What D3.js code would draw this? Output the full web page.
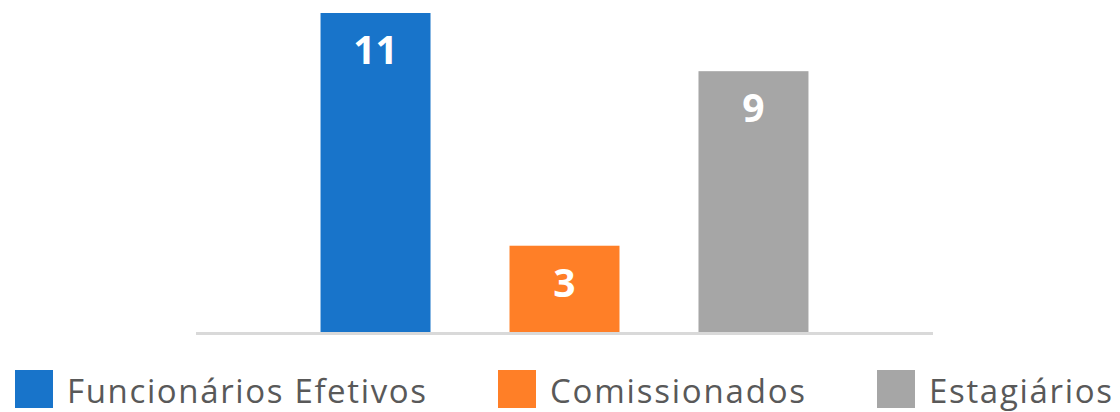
<!DOCTYPE html>
<html>
<head>
<meta charset="utf-8">
<script src="https://cdn.jsdelivr.net/npm/d3@7"></script>
<style>
  body { margin: 0; background: #fff; }
  svg { display: block; }
</style>
</head>
<body>
<div id="chart"></div>
<script>
// chart data
var categories = ['Funcionários Efetivos', 'Comissionados', 'Estagiários'];
var values = [11, 3, 9];
var colors = ['#1874CA', '#FF7F27', '#A6A6A6'];

const config = {
    width: 1120,
    height: 412,
    axisLeft: 196,
    axisRight: 933,
    baseY: 333,
    topY: 13
}

var svg = d3.select('#chart')
    .append('svg')
    .attr('width', config.width)
    .attr('height', config.height)

// x-scale: bars 110px wide, centered over the axis line
var xScale = d3.scaleBand()
    .domain(categories)
    .range([config.axisLeft, config.axisRight])
    .paddingInner(0.418)
    .paddingOuter(0.659)

// y-scale
var yScale = d3.scaleLinear().domain([0, 11]).range([config.baseY, config.topY])

var bars = svg.append('g')
    .selectAll('g')
    .data(values)
    .enter()
    .append('g')

bars.append('rect')
    .attr('x', (d, i) => xScale(categories[i]))
    .attr('y', d => yScale(d))
    .attr('width', xScale.bandwidth())
    .attr('height', d => config.baseY - yScale(d))
    .attr('fill', (d, i) => colors[i])

bars.append('text')
    .attr('x', (d, i) => xScale(categories[i]) + xScale.bandwidth() / 2)
    .attr('y', d => yScale(d) + 51)
    .attr('text-anchor', 'middle')
    .attr('font-family', '"Open Sans", sans-serif')
    .attr('font-weight', 'bold')
    .attr('font-size', 39)
    .attr('fill', '#fff')
    .text(d => d)

// axis line
svg.append('line')
    .attr('x1', config.axisLeft)
    .attr('x2', config.axisRight)
    .attr('y1', config.baseY + 0.5)
    .attr('y2', config.baseY + 0.5)
    .attr('stroke', '#D9D9D9')
    .attr('stroke-width', 3)

// legend
var legendX = [15, 498, 877];
var legendW = [359, 255, 183]; // measured label widths in the picture
var legend = svg.append('g')
    .selectAll('g')
    .data(categories)
    .enter()
    .append('g')
    .attr('transform', (d, i) => 'translate(' + legendX[i] + ',370)')

legend.append('rect')
    .attr('width', 38)
    .attr('height', 38)
    .attr('fill', (d, i) => colors[i])

legend.append('text')
    .attr('x', 52)
    .attr('y', 33)
    .attr('font-family', '"Open Sans", sans-serif')
    .attr('font-size', 33)
    .attr('fill', '#595959')
    .attr('textLength', (d, i) => legendW[i])
    .attr('lengthAdjust', 'spacing')
    .text(d => d)
</script>
</body>
</html>
